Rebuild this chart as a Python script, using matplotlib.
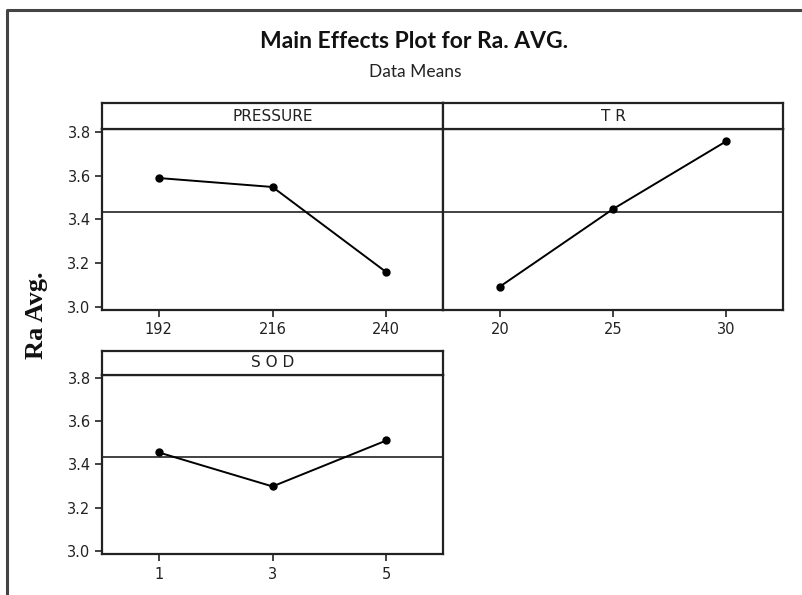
import matplotlib
matplotlib.use('Agg')
import matplotlib.pyplot as plt
from matplotlib.lines import Line2D

# factor levels and mean response
pressure_levels = ['192', '216', '240']
pressure_means = [3.589, 3.548, 3.158]
tr_levels = ['20', '25', '30']
tr_means = [3.092, 3.447, 3.757]
sod_levels = ['1', '3', '5']
sod_means = [3.455, 3.298, 3.510]
grand_mean = 3.434
y_ticks = [3.0, 3.2, 3.4, 3.6, 3.8]

W, H = 802, 595
fig = plt.figure(figsize=(W / 100, H / 100), dpi=100)
plt.rcParams['font.family'] = 'DejaVu Sans'


def px_axes(x0, y0, x1, y1):
    # pixel box (top-left origin) -> figure axes
    return fig.add_axes([x0 / W, 1 - y1 / H, (x1 - x0) / W, (y1 - y0) / H])


def panel(x0, x1, top, strip_bot, bot, name, levels, means, show_y):
    ax = px_axes(x0, strip_bot, x1, bot)
    xs = list(range(len(levels)))
    ax.axhline(grand_mean, color='#222222', lw=1.2, zorder=1)
    ax.plot(xs, means, color='black', lw=1.4, marker='o', markersize=5, zorder=3)
    ax.set_xlim(-0.5, len(levels) - 0.5)
    ax.set_ylim(2.985, 3.812)
    ax.set_xticks(xs)
    ax.set_xticklabels(levels)
    ax.set_yticks(y_ticks)
    if show_y:
        ax.set_yticklabels(['%.1f' % v for v in y_ticks])
        ax.tick_params(axis='y', length=5, width=1.2, labelsize=10.5,
                       colors='#222222', pad=3)
    else:
        ax.tick_params(axis='y', left=False, labelleft=False)
    ax.tick_params(axis='x', length=5, width=1.2, labelsize=10.5,
                   colors='#222222', pad=4)
    for s in ax.spines.values():
        s.set_linewidth(1.6)
        s.set_color('#222222')
    # strip header
    st = px_axes(x0, top, x1, strip_bot)
    st.set_xticks([])
    st.set_yticks([])
    for s in st.spines.values():
        s.set_linewidth(1.6)
        s.set_color('#222222')
    st.text(0.5, 0.5, name, ha='center', va='center', fontsize=11,
            color='#222222', transform=st.transAxes)
    return ax


panel(101.7, 443.3, 103.3, 129.3, 310, 'PRESSURE', pressure_levels, pressure_means, True)
panel(443.3, 782.7, 103.3, 129.3, 310, 'T R', tr_levels, tr_means, False)
panel(101.7, 443.3, 350.7, 375, 554.3, 'S O D', sod_levels, sod_means, True)

fig.text(414 / W, 1 - 42 / H, 'Main Effects Plot for Ra. AVG.', ha='center',
         va='center', fontsize=16.5, fontweight='bold', family='Lato',
         color='#111111')
fig.text(415 / W, 1 - 72 / H, 'Data Means', ha='center', va='center',
         fontsize=12.5, family='Lato', color='#222222')
fig.text(37 / W, 1 - 315 / H, 'Ra Avg.', ha='center', va='center', rotation=90,
         fontsize=19, fontweight='bold', family='Liberation Serif', color='#111111')

# outer frame (left and top edges visible)
fig.add_artist(Line2D([7 / W, 7 / W, 1.0], [0.0, 1 - 10 / H, 1 - 10 / H],
                      transform=fig.transFigure, color='#444444', lw=2.2))

fig.savefig('out.png', dpi=100)
